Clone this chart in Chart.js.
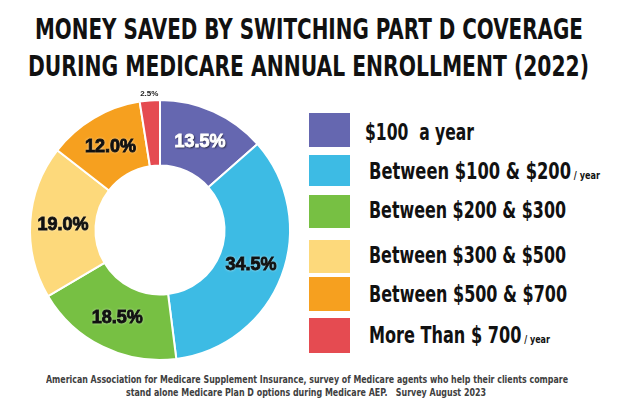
<!DOCTYPE html>
<html><head><meta charset="utf-8">
<script src="https://cdn.jsdelivr.net/npm/chart.js@4.4.0/dist/chart.umd.min.js"></script>
<style>
html,body{margin:0;padding:0;background:#fff;width:620px;height:410px;overflow:hidden;position:relative;}
.fit{position:absolute;white-space:pre;font-family:"DejaVu Sans Condensed","DejaVu Sans",sans-serif;font-stretch:condensed;font-weight:bold;line-height:1;transform-origin:0 0;display:inline-block;}
.fit small{font-size:0.5em;}
#chartbox{position:absolute;left:20px;top:90px;width:280px;height:280px;}
.sw{position:absolute;left:309px;width:41px;}
</style></head>
<body>
<div id="chartbox"><canvas id="c" width="280" height="280"></canvas></div>
<div id="texts"></div>
<script>
const titleLines = ["MONEY SAVED BY SWITCHING PART D COVERAGE", "DURING MEDICARE ANNUAL ENROLLMENT (2022)"];
const noteLines = ["American Association for Medicare Supplement Insurance, survey of Medicare agents who help their clients compare",
                   "stand alone Medicare Plan D options during Medicare AEP.   Survey August 2023"];
const categories = ["$100  a year", "Between $100 & $200", "Between $200 & $300", "Between $300 & $500", "Between $500 & $700", "More Than $ 700"];
const suffixes = ["", "/ year", "", "", "", "/ year"];
const values = [13.5, 34.5, 18.5, 19.0, 12.0, 2.5];
const colors = ["#6567b0", "#3dbbe4", "#77c043", "#fdd97b", "#f6a01f", "#e54b51"];

const host = document.getElementById('texts');
function fitText(text, suffix, left, right, baseline, fs, color) {
  const el = document.createElement('div');
  el.className = 'fit';
  el.style.fontSize = fs + 'px';
  el.style.color = color;
  el.style.left = left + 'px';
  el.style.top = (baseline - 0.846 * fs) + 'px';
  el.textContent = text;
  if (suffix) { const s = document.createElement('small'); s.textContent = ' ' + suffix; el.appendChild(s); }
  host.appendChild(el);
  const w = el.getBoundingClientRect().width;
  el.style.transform = 'scaleX(' + ((right - left) / w) + ')';
}
// title
fitText(titleLines[0], '', 35, 583, 40, 28.5, '#111');
fitText(titleLines[1], '', 28, 589, 77, 28.5, '#111');
// note
fitText(noteLines[0], '', 46, 568, 383, 11, '#404040');
fitText(noteLines[1], '', 126, 486, 396, 11, '#404040');
// legend
const swTop = [113, 155, 195, 240, 277, 318];
const swH = [34, 31, 33, 33, 34, 35];
const txtBase = [140, 179, 218, 263, 302, 343];
const txtLeft = [365, 369, 369, 369, 369, 369];
const txtRight = [474, 600, 566, 566, 567, 550];
categories.forEach((c, i) => {
  const sw = document.createElement('div');
  sw.className = 'sw';
  sw.style.top = swTop[i] + 'px'; sw.style.height = swH[i] + 'px'; sw.style.background = colors[i];
  host.appendChild(sw);
  fitText(c, suffixes[i], txtLeft[i], txtRight[i], txtBase[i], 22.5, '#111');
});

const labelPlugin = {
  id: 'sliceLabels',
  afterDatasetsDraw(chart) {
    const ctx = chart.ctx;
    const meta = chart.getDatasetMeta(0);
    meta.data.forEach((arc, i) => {
      const v = values[i];
      const txt = v.toFixed(1) + '%';
      const a = (arc.startAngle + arc.endAngle) / 2;
      ctx.save();
      ctx.textAlign = 'center'; ctx.textBaseline = 'middle';
      if (v < 5) {
        const r = arc.outerRadius + 7;
        const x = arc.x + Math.cos(a) * r, y = arc.y + Math.sin(a) * r;
        ctx.font = 'bold 8px "Liberation Sans", sans-serif';
        ctx.fillStyle = '#222';
        ctx.fillText(txt, x, y);
      } else {
        const r = (arc.innerRadius + arc.outerRadius) / 2;
        const x = arc.x + Math.cos(a) * r, y = arc.y + Math.sin(a) * r + 1;
        ctx.font = 'bold 18px "Liberation Sans", sans-serif';
        ctx.lineWidth = 0.9;
        if (i === 0) {
          ctx.shadowColor = 'rgba(0,0,0,0.85)'; ctx.shadowBlur = 2; ctx.shadowOffsetX = 1; ctx.shadowOffsetY = 1;
          ctx.fillStyle = '#fff'; ctx.strokeStyle = '#fff';
        } else {
          ctx.shadowColor = 'rgba(255,255,255,0.9)'; ctx.shadowBlur = 3;
          ctx.fillStyle = '#111'; ctx.strokeStyle = '#111';
        }
        ctx.fillText(txt, x, y);
        ctx.shadowColor = 'transparent';
        ctx.strokeText(txt, x, y);
      }
      ctx.restore();
    });
  }
};

new Chart(document.getElementById('c'), {
  type: 'doughnut',
  data: { labels: categories, datasets: [{ data: values, backgroundColor: colors, borderColor: '#fff', borderWidth: 2 }] },
  options: {
    responsive: false, animation: false,
    radius: 130, cutout: 69,
    plugins: { legend: { display: false }, tooltip: { enabled: false } }
  },
  plugins: [labelPlugin]
});
</script>
</body></html>
